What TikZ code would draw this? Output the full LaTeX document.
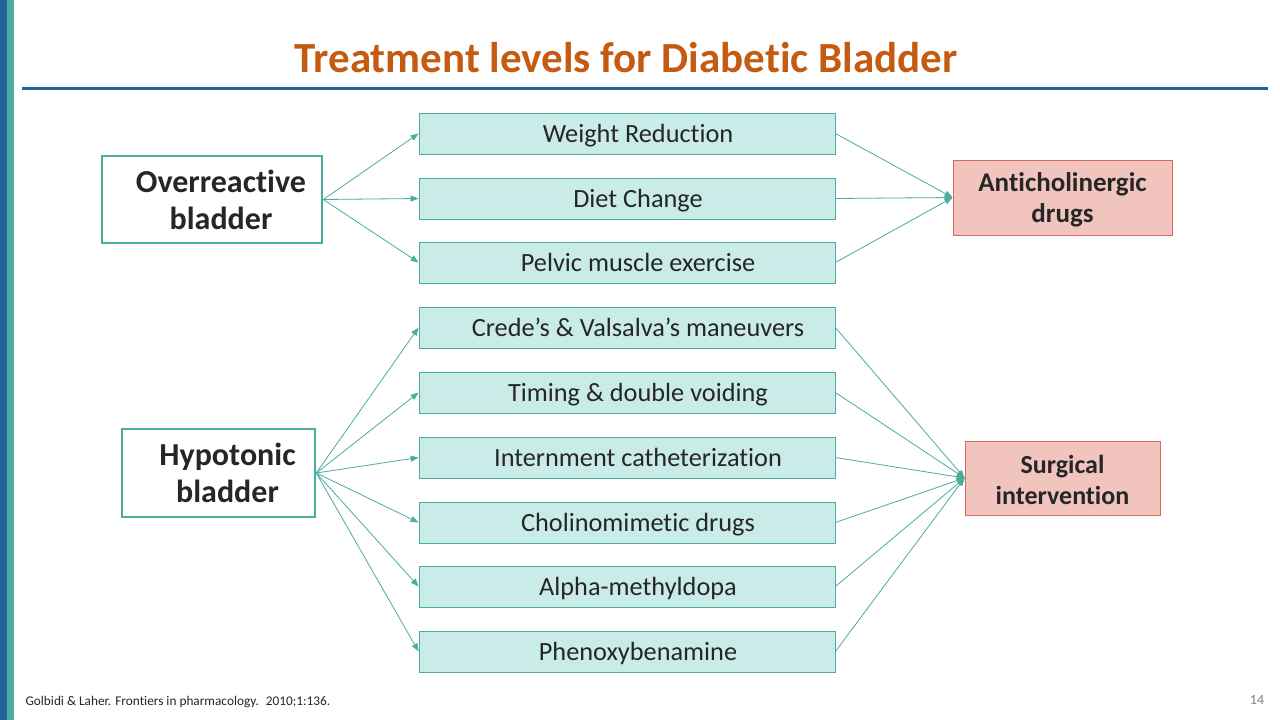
\documentclass[tikz,border=0pt]{standalone}
\usepackage{fontspec}
\setmainfont{Carlito}[Ligatures=CommonOff]
\usetikzlibrary{arrows.meta}
\definecolor{tealc}{HTML}{4BACA0}
\definecolor{tealfill}{HTML}{C9ECE8}
\definecolor{pinkfill}{HTML}{F2C4BE}
\definecolor{pinkdraw}{HTML}{D9695C}
\definecolor{darkblue}{HTML}{1F6397}
\definecolor{titlec}{HTML}{C55A11}
\definecolor{txt}{HTML}{262626}
\tikzset{
  srcbox/.style={draw=tealc, line width=2.6pt, fill=white, align=center, font=\bfseries\fontsize{32}{37}\selectfont, text=txt},
  midbox/.style={draw=tealc, line width=0.8pt, fill=tealfill, minimum width=416pt, minimum height=41pt, inner sep=0pt, text height=20pt, text depth=3pt, font=\fontsize{26.3}{30}\selectfont, text=txt},
  dstbox/.style={draw=pinkdraw, line width=0.8pt, fill=pinkfill, align=center, inner sep=0pt, text=txt},
  conn/.style={draw=tealc, line width=0.8pt, -{Triangle[length=8pt,width=6pt]}}
}
\begin{document}
\begin{tikzpicture}[x=1pt,y=-1pt]
\useasboundingbox (0,0) rectangle (1280,720);
\fill[white] (0,0) rectangle (1280,720);
% side bars
\fill[darkblue] (0,0) rectangle (7,720);
\fill[tealc] (7,0) rectangle (14,720);
% title rule
\draw[darkblue, line width=3pt] (22,88) -- (1268,88);
\node[font=\bfseries\fontsize{43}{48}\selectfont, text=titlec] (title) at (626,58) {Treatment levels for Diabetic Bladder};
% source boxes
\node[srcbox, minimum width=220pt, minimum height=87pt, inner sep=0pt] (over) at (212,199.5) {\hspace*{18pt}Overreactive\\\hspace*{18pt}bladder};
\node[srcbox, minimum width=193pt, minimum height=88pt, inner sep=0pt] (hypo) at (218.5,473) {\hspace*{18pt}Hypotonic\\\hspace*{18pt}bladder};
% middle boxes
\node[midbox] (m1) at (627,133.5) {\hspace*{22pt}Weight Reduction};
\node[midbox] (m2) at (627,198.5) {\hspace*{22pt}Diet Change};
\node[midbox] (m3) at (627,262.5) {\hspace*{22pt}Pelvic muscle exercise};
\node[midbox] (m4) at (627,327.5) {\hspace*{22pt}Crede’s \& Valsalva’s maneuvers};
\node[midbox] (m5) at (627,392.5) {\hspace*{22pt}Timing \& double voiding};
\node[midbox] (m6) at (627,457.5) {\hspace*{22pt}Internment catheterization};
\node[midbox] (m7) at (627,522.5) {\hspace*{22pt}Cholinomimetic drugs};
\node[midbox] (m8) at (627,586.5) {\hspace*{22pt}Alpha-methyldopa};
\node[midbox] (m9) at (627,651.5) {\hspace*{22pt}Phenoxybenamine};
% destination boxes
\node[dstbox, minimum width=219pt, minimum height=75pt, font=\bfseries\fontsize{27}{31}\selectfont] (anti) at (1062.5,197.5) {\rule{0pt}{23pt}Anticholinergic\\drugs};
\node[dstbox, minimum width=195pt, minimum height=74pt, font=\bfseries\fontsize{26}{31}\selectfont] (surg) at (1062.5,478) {\rule{0pt}{23pt}Surgical\\intervention};
% connectors
\foreach \m in {m1,m2,m3} {
  \draw[conn] (over.east) -- (\m.west);
  \draw[conn] (\m.east) -- (anti.west);
}
\foreach \m in {m4,m5,m6,m7,m8,m9} {
  \draw[conn] (hypo.east) -- (\m.west);
  \draw[conn] (\m.east) -- (surg.west);
}
% footer
\node[anchor=west, font=\fontsize{13.3}{15}\selectfont, text=txt] (ref) at (22,702) {Golbidi \& Laher. Frontiers in pharmacology.~ 2010;1:136.};
\node[font=\fontsize{14}{16}\selectfont, text=gray] (pg) at (1257,700) {14};
\end{tikzpicture}
\end{document}
